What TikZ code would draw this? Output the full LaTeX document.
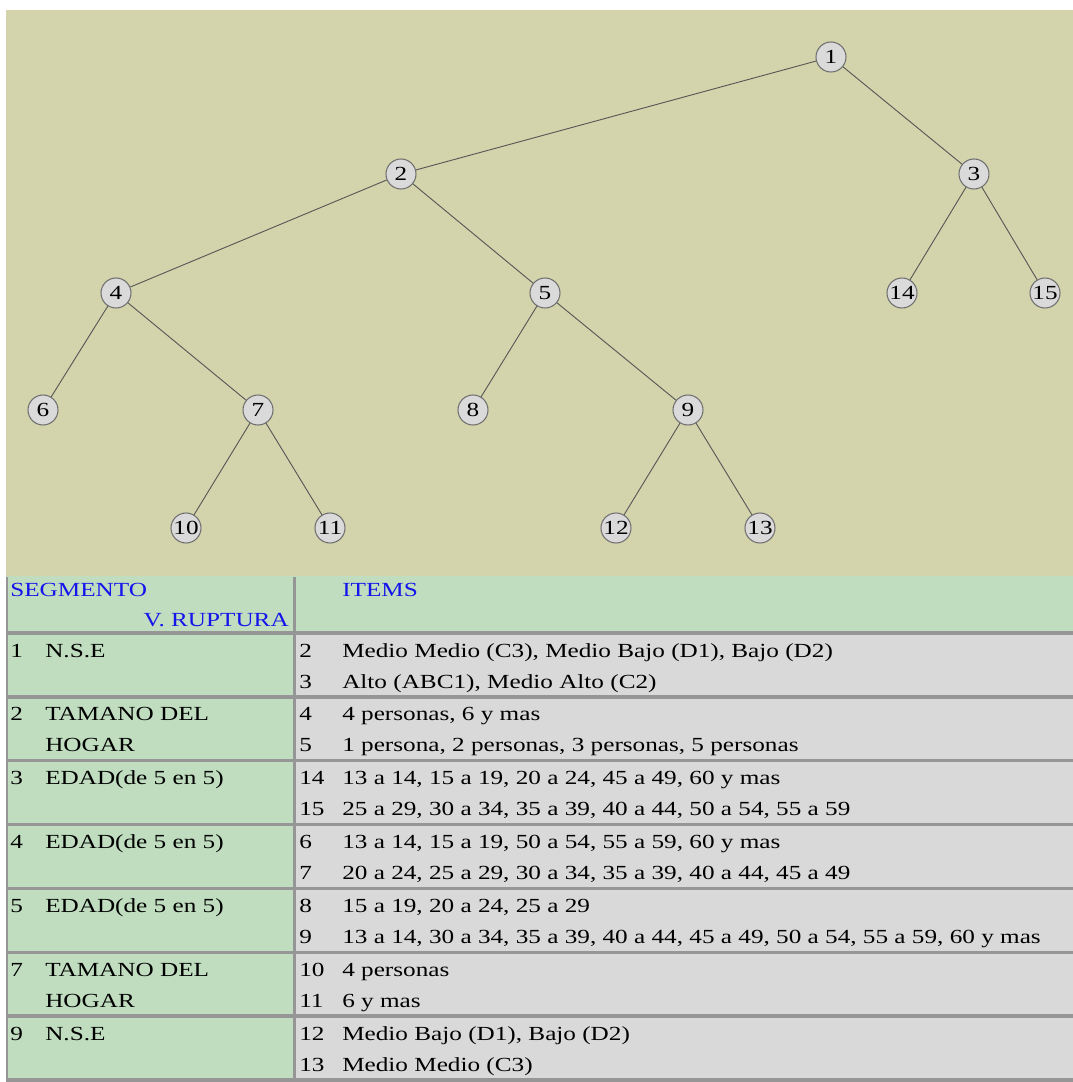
\documentclass[tikz,border=0pt]{standalone}
\usepackage{fontspec}
\setmainfont[FakeStretch=1.26]{Liberation Serif}
\definecolor{treebg}{RGB}{212,212,172}
\definecolor{segbg}{RGB}{192,221,192}
\definecolor{itembg}{RGB}{217,217,217}
\definecolor{rulecol}{RGB}{150,150,150}
\definecolor{nodefill}{RGB}{218,218,218}
\definecolor{nodeline}{RGB}{112,112,112}
\definecolor{edgecol}{RGB}{88,88,88}
\definecolor{headblue}{RGB}{20,20,235}
\begin{document}
\begin{tikzpicture}[x=0.75pt,y=-0.75pt,
  tnode/.style={circle, draw=nodeline, fill=nodefill, line width=0.8pt,
    minimum size=22.5pt, inner sep=0pt, font=\fontsize{15}{15}\selectfont},
  edge/.style={draw=edgecol, line width=0.7pt},
  celltext/.style={anchor=base west, inner sep=0pt, font=\fontsize{15}{15}\selectfont},
  headtext/.style={celltext, text=headblue},
  rule/.style={draw=rulecol, line width=2pt}]
\useasboundingbox (0,0) rectangle (1073,1082);

% backgrounds
\fill[treebg] (6,10) rectangle (1073,576);
\fill[segbg] (6,576) rectangle (1073,633);
\fill[segbg] (6,633) rectangle (294,1081);
\fill[itembg] (294,633) rectangle (1073,1081);

% tree
\node[tnode] (n1)  at (831,57)  {1};
\node[tnode] (n2)  at (401,174) {2};
\node[tnode] (n3)  at (974,174) {3};
\node[tnode] (n4)  at (116,293) {4};
\node[tnode] (n5)  at (545,293) {5};
\node[tnode] (n14) at (902,293) {14};
\node[tnode] (n15) at (1045,293) {15};
\node[tnode] (n6)  at (43,410)  {6};
\node[tnode] (n7)  at (258,410) {7};
\node[tnode] (n8)  at (473,410) {8};
\node[tnode] (n9)  at (688,410) {9};
\node[tnode] (n10) at (186,528) {10};
\node[tnode] (n11) at (330,528) {11};
\node[tnode] (n12) at (616,528) {12};
\node[tnode] (n13) at (760,528) {13};
\foreach \p/\c in {n1/n2,n1/n3,n2/n4,n2/n5,n3/n14,n3/n15,n4/n6,n4/n7,
                   n5/n8,n5/n9,n7/n10,n7/n11,n9/n12,n9/n13}
  \draw[edge] (\p) -- (\c);

% table rules
\draw[rule] (7,577) -- (7,1081);
\draw[rule] (294.5,577) -- (294.5,1081);
\foreach \k in {0,...,7}
  \draw[rule, line width=2.6pt] (6,633+63.86*\k) -- (1073,633+63.86*\k);

% header
\node[headtext] (hseg) at (10,596) {SEGMENTO};
\node[headtext, anchor=base east] (hrup) at (289,626) {V. RUPTURA};
\node[headtext] (hitems) at (342,596) {ITEMS};

% body rows
\foreach \k/\n/\la/\lb/\p/\pa/\q/\qa in {
  1/1/{N.S.E}/{}/2/{Medio Medio (C3), Medio Bajo (D1), Bajo (D2)}/3/{Alto (ABC1), Medio Alto (C2)},
  2/2/{TAMANO DEL}/{HOGAR}/4/{4 personas, 6 y mas}/5/{1 persona, 2 personas, 3 personas, 5 personas},
  3/3/{EDAD(de 5 en 5)}/{}/14/{13 a 14, 15 a 19, 20 a 24, 45 a 49, 60 y mas}/15/{25 a 29, 30 a 34, 35 a 39, 40 a 44, 50 a 54, 55 a 59},
  4/4/{EDAD(de 5 en 5)}/{}/6/{13 a 14, 15 a 19, 50 a 54, 55 a 59, 60 y mas}/7/{20 a 24, 25 a 29, 30 a 34, 35 a 39, 40 a 44, 45 a 49},
  5/5/{EDAD(de 5 en 5)}/{}/8/{15 a 19, 20 a 24, 25 a 29}/9/{13 a 14, 30 a 34, 35 a 39, 40 a 44, 45 a 49, 50 a 54, 55 a 59, 60 y mas},
  6/7/{TAMANO DEL}/{HOGAR}/10/{4 personas}/11/{6 y mas},
  7/9/{N.S.E}/{}/12/{Medio Bajo (D1), Bajo (D2)}/13/{Medio Medio (C3)}}
{
  \pgfmathsetmacro\rt{633+63.86*(\k-1)}
  \node[celltext] (sn\k) at (10,\rt+24) {\n};
  \node[celltext] (sa\k) at (45,\rt+24) {\la};
  \node[celltext] (sb\k) at (45,\rt+55) {\lb};
  \node[celltext] (pn\k) at (299,\rt+24) {\p};
  \node[celltext] (pt\k) at (342,\rt+24) {\pa};
  \node[celltext] (qn\k) at (299,\rt+55) {\q};
  \node[celltext] (qt\k) at (342,\rt+55) {\qa};
}
\end{tikzpicture}
\end{document}
